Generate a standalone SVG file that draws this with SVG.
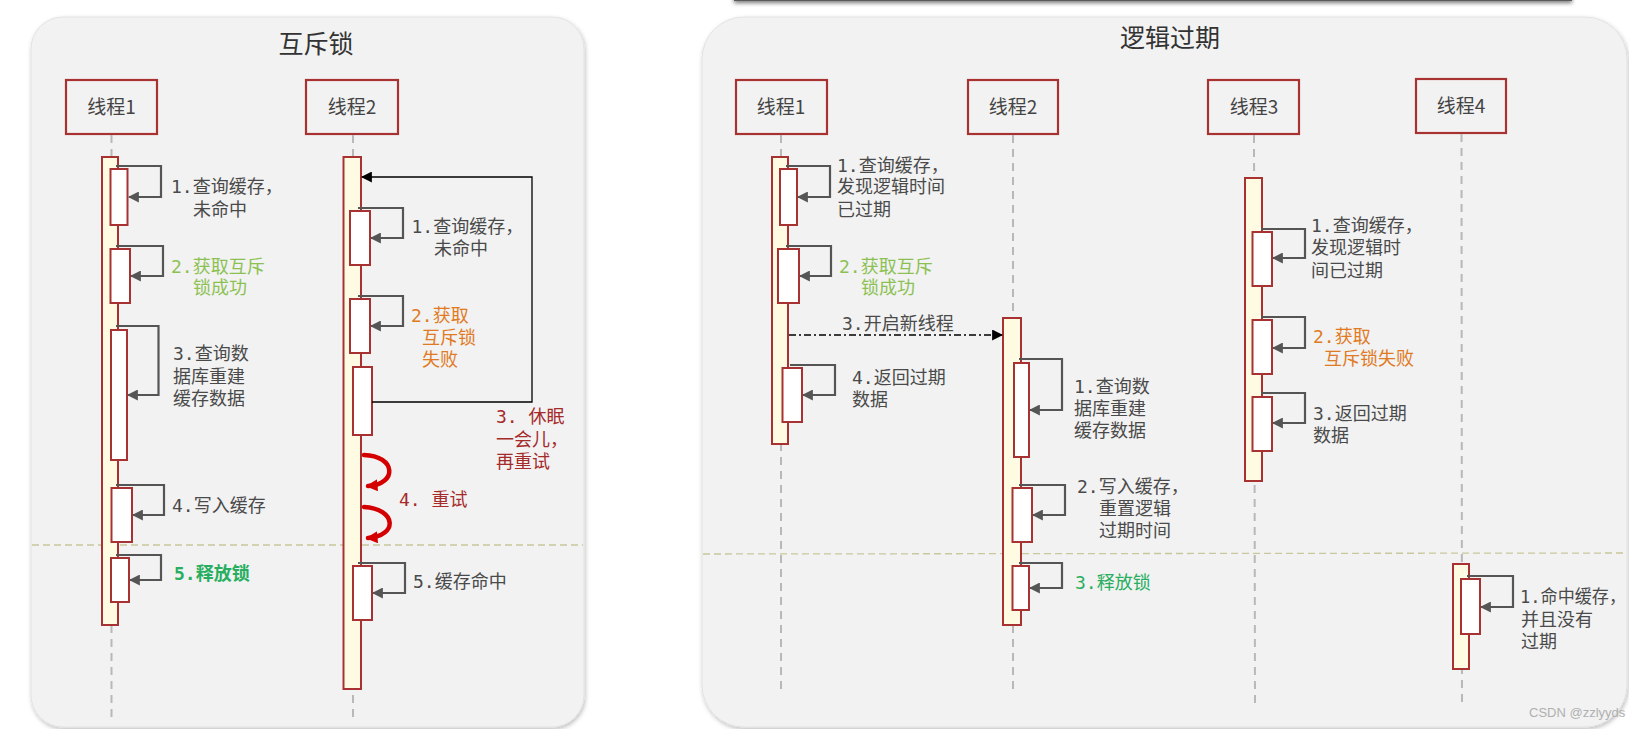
<svg xmlns="http://www.w3.org/2000/svg" width="1629" height="729" viewBox="0 0 1629 729">
<style>
.panel{fill:#f2f2f2;stroke:#e2e2e2;stroke-width:1}
.title{font-family:"Noto Sans CJK SC","Noto Sans",sans-serif;font-size:25px;fill:#333;text-anchor:middle}
.hbox{fill:#f2f2f2;stroke:#a83232;stroke-width:2.2}
.hlab{font-family:"Noto Sans CJK SC","Noto Sans",sans-serif;font-size:19px;fill:#444;text-anchor:middle}
.life{stroke:#b8b8b8;stroke-width:2;stroke-dasharray:8 6;fill:none}
.bar{fill:#fffbe3;stroke:#a83232;stroke-width:2}
.act{fill:#ffffff;stroke:#a83232;stroke-width:2}
.self{fill:none;stroke:#555;stroke-width:2.2}
.sep{stroke:#c9c79b;stroke-width:1.3;stroke-dasharray:7 4;fill:none}
.t{font-family:"DejaVu Sans Mono","Noto Sans CJK SC",monospace;font-size:18px;fill:#4a4a4a}
.g1{fill:#8cc152}
.g2{fill:#27ae60}
.or{fill:#e07b24}
.dr{fill:#a52a2a}
.red{fill:none;stroke:#d40000;stroke-width:4.5;stroke-linecap:round}
</style>
<defs>
<marker id="ag" viewBox="0 0 10 10" refX="9" refY="5" markerWidth="11" markerHeight="11" markerUnits="userSpaceOnUse" orient="auto"><path d="M0,0 L10,5 L0,10 z" fill="#555"/></marker>
<marker id="ak" viewBox="0 0 10 10" refX="9" refY="5" markerWidth="11" markerHeight="11" markerUnits="userSpaceOnUse" orient="auto"><path d="M0,0 L10,5 L0,10 z" fill="#000"/></marker>
<marker id="ar" viewBox="0 0 10 10" refX="8" refY="5" markerWidth="12" markerHeight="12" markerUnits="userSpaceOnUse" orient="auto"><path d="M0,0 L10,5 L0,10 z" fill="#d40000"/></marker>
<filter id="sh" x="-5%" y="-5%" width="110%" height="110%"><feDropShadow dx="1" dy="2" stdDeviation="2" flood-color="#000" flood-opacity="0.25"/></filter>
<filter id="bl" x="-5%" y="-200%" width="110%" height="500%"><feGaussianBlur stdDeviation="2"/></filter>
</defs>
<rect x="0" y="0" width="1629" height="729" fill="#ffffff"/>
<!-- top window edge -->
<rect x="734" y="-8" width="838" height="11" fill="#777" filter="url(#bl)"/>
<rect x="734" y="-8" width="838" height="9" fill="#5a5a5a"/>

<!-- Left panel -->
<g id="panel-mutex">
<rect class="panel" x="31" y="17" width="553" height="710" rx="32" filter="url(#sh)"/>
<text class="title" x="316" y="53">互斥锁</text>
<line class="sep" x1="32" y1="545" x2="583" y2="545"/>
</g>

<g id="m-thread1">
<rect class="hbox" x="66" y="80" width="91" height="54"/>
<text class="hlab" x="111.5" y="114">线程1</text>
<line class="life" x1="111.5" y1="135" x2="111.5" y2="722"/>
<rect class="bar" x="102" y="157" width="16" height="468"/>
<rect class="act" x="110.5" y="169" width="17" height="56"/>
<rect class="act" x="110.5" y="249" width="19.5" height="54"/>
<rect class="act" x="111" y="330" width="16" height="130"/>
<rect class="act" x="111.5" y="488" width="20.5" height="54"/>
<rect class="act" x="111" y="558" width="18" height="44"/>
</g>
<g id="m-thread2">
<rect class="hbox" x="306" y="80" width="92" height="54"/>
<text class="hlab" x="352" y="114">线程2</text>
<line class="life" x1="353" y1="135" x2="353" y2="722"/>
<rect class="bar" x="343.5" y="157" width="17.5" height="532"/>
<rect class="act" x="350" y="211" width="20" height="54"/>
<rect class="act" x="350" y="299" width="20" height="54"/>
<rect class="act" x="353" y="367" width="19" height="68"/>
<rect class="act" x="353" y="566" width="19" height="54"/>
</g>

<g id="m-connectors">
<path class="self" d="M116,166 H161 V197 H129" marker-end="url(#ag)"/>
<path class="self" d="M116,246 H163 V276 H131" marker-end="url(#ag)"/>
<path class="self" d="M116,326 H158.5 V395 H128" marker-end="url(#ag)"/>
<path class="self" d="M116,485 H164 V515 H133" marker-end="url(#ag)"/>
<path class="self" d="M116,555 H161 V580 H130" marker-end="url(#ag)"/>
<path class="self" d="M358,208 H403 V238 H371" marker-end="url(#ag)"/>
<path class="self" d="M358,296 H403 V326 H371" marker-end="url(#ag)"/>
<path class="self" d="M358,563 H405 V593 H373" marker-end="url(#ag)"/>
<path d="M372,402 H532 V177 H362" fill="none" stroke="#000" stroke-width="1.3" marker-end="url(#ak)"/>
<path class="red" d="M364,455 C396,456 398,484 368,486" marker-end="url(#ar)"/>
<path class="red" d="M364,507 C397,509 398,536 368,538" marker-end="url(#ar)"/>
</g>

<g id="m-labels">
<text class="t" x="171" y="193">1.查询缓存，</text>
<text class="t" x="193" y="216">未命中</text>
<text class="t g1" x="171" y="273">2.获取互斥</text>
<text class="t g1" x="193" y="294">锁成功</text>
<text class="t" x="173" y="360">3.查询数</text>
<text class="t" x="173" y="383">据库重建</text>
<text class="t" x="173" y="405">缓存数据</text>
<text class="t" x="172" y="512">4.写入缓存</text>
<text class="t g2" x="174" y="580" font-weight="bold">5.释放锁</text>
<text class="t" x="411.5" y="233">1.查询缓存，</text>
<text class="t" x="434" y="255">未命中</text>
<text class="t or" x="411" y="322">2.获取</text>
<text class="t or" x="422" y="344">互斥锁</text>
<text class="t or" x="422" y="366">失败</text>
<text class="t dr" x="496" y="423">3. 休眠</text>
<text class="t dr" x="496" y="446">一会儿，</text>
<text class="t dr" x="496" y="468">再重试</text>
<text class="t dr" x="399" y="506">4. 重试</text>
<text class="t" x="413" y="588">5.缓存命中</text>
</g>

<!-- Right panel -->
<g id="panel-logic">
<rect class="panel" x="702" y="17" width="925" height="710" rx="42" filter="url(#sh)"/>
<text class="title" x="1170" y="47">逻辑过期</text>
<line class="sep" x1="703" y1="554" x2="1626" y2="553"/>
</g>

<g id="l-thread1">
<rect class="hbox" x="736" y="80" width="91" height="54"/>
<text class="hlab" x="781" y="114">线程1</text>
<line class="life" x1="781" y1="135" x2="781" y2="694"/>
<rect class="bar" x="772" y="157" width="16" height="287"/>
<rect class="act" x="780" y="169" width="17" height="56"/>
<rect class="act" x="778" y="249" width="21" height="54"/>
<rect class="act" x="782.5" y="368" width="19.5" height="54"/>
</g>
<g id="l-thread2">
<rect class="hbox" x="968" y="80" width="90" height="54"/>
<text class="hlab" x="1013" y="114">线程2</text>
<line class="life" x1="1013" y1="135" x2="1013" y2="694"/>
<rect class="bar" x="1003" y="318" width="18" height="307"/>
<rect class="act" x="1014" y="363" width="15" height="94"/>
<rect class="act" x="1012.5" y="488" width="19.5" height="54"/>
<rect class="act" x="1012.5" y="566" width="16.5" height="44"/>
</g>
<g id="l-thread3">
<rect class="hbox" x="1208" y="80" width="91" height="54"/>
<text class="hlab" x="1254" y="114">线程3</text>
<line class="life" x1="1254" y1="135" x2="1255" y2="708"/>
<rect class="bar" x="1245" y="178" width="17" height="303"/>
<rect class="act" x="1252.5" y="232" width="19.5" height="54"/>
<rect class="act" x="1252.5" y="320" width="19.5" height="54"/>
<rect class="act" x="1252.5" y="397" width="19.5" height="54"/>
</g>
<g id="l-thread4">
<rect class="hbox" x="1416" y="79" width="90" height="54"/>
<text class="hlab" x="1461" y="113">线程4</text>
<line class="life" x1="1461.5" y1="134" x2="1462" y2="708"/>
<rect class="bar" x="1453" y="564" width="16" height="105"/>
<rect class="act" x="1461" y="579" width="19" height="55"/>
</g>

<g id="l-connectors">
<path class="self" d="M786,166 H830 V197 H798" marker-end="url(#ag)"/>
<path class="self" d="M786,246 H831 V276 H800" marker-end="url(#ag)"/>
<path class="self" d="M790,365 H835 V395 H803" marker-end="url(#ag)"/>
<path class="self" d="M1019,359 H1062 V410 H1030" marker-end="url(#ag)"/>
<path class="self" d="M1019,485 H1065 V515 H1033" marker-end="url(#ag)"/>
<path class="self" d="M1019,563 H1062 V588 H1030" marker-end="url(#ag)"/>
<path class="self" d="M1261,229 H1305 V258 H1273" marker-end="url(#ag)"/>
<path class="self" d="M1261,317 H1305 V348 H1273" marker-end="url(#ag)"/>
<path class="self" d="M1261,393 H1305 V423 H1273" marker-end="url(#ag)"/>
<path class="self" d="M1467,576 H1513 V607 H1481" marker-end="url(#ag)"/>
<path d="M789,335 H1002" fill="none" stroke="#000" stroke-width="1.3" stroke-dasharray="7 3 2 3" marker-end="url(#ak)"/>
</g>

<g id="l-labels">
<text class="t" x="837" y="172">1.查询缓存，</text>
<text class="t" x="837" y="193">发现逻辑时间</text>
<text class="t" x="837" y="216">已过期</text>
<text class="t g1" x="839" y="273">2.获取互斥</text>
<text class="t g1" x="861" y="294">锁成功</text>
<text class="t" x="842" y="330">3.开启新线程</text>
<text class="t" x="852" y="384">4.返回过期</text>
<text class="t" x="852" y="406">数据</text>
<text class="t" x="1074" y="393">1.查询数</text>
<text class="t" x="1074" y="415">据库重建</text>
<text class="t" x="1074" y="437">缓存数据</text>
<text class="t" x="1077" y="493">2.写入缓存，</text>
<text class="t" x="1099" y="515">重置逻辑</text>
<text class="t" x="1099" y="537">过期时间</text>
<text class="t g2" x="1075" y="589">3.释放锁</text>
<text class="t" x="1311" y="232">1.查询缓存，</text>
<text class="t" x="1311" y="254">发现逻辑时</text>
<text class="t" x="1311" y="277">间已过期</text>
<text class="t or" x="1313" y="343">2.获取</text>
<text class="t or" x="1324" y="365">互斥锁失败</text>
<text class="t" x="1313" y="420">3.返回过期</text>
<text class="t" x="1313" y="442">数据</text>
<text class="t" x="1520" y="603" textLength="106" lengthAdjust="spacingAndGlyphs">1.命中缓存，</text>
<text class="t" x="1521" y="626">并且没有</text>
<text class="t" x="1521" y="648">过期</text>
<text x="1529" y="717" font-family="Liberation Sans, Arial, sans-serif" font-size="13" fill="#b0b0b0">CSDN @zzlyyds</text>
</g>
</svg>
